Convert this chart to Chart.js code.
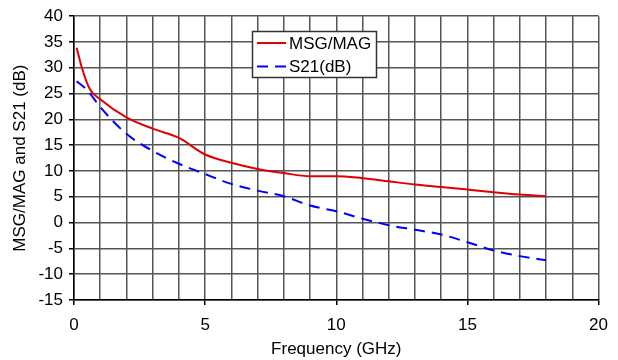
<!DOCTYPE html>
<html>
<head>
    <title>MSG/MAG and S21</title>
    <script src="https://cdn.jsdelivr.net/npm/chart.js"></script>
    <style>
        body { margin: 0; background: #fff; }
        #wrap { width: 618px; height: 360px; }
    </style>
</head>
<body>
    <div id="wrap"><canvas id="gainChart"></canvas></div>

    <script>
        // values
        let freqMsg = [0.1, 0.3, 0.6, 1, 2, 3, 4, 5, 6, 7, 8, 9, 10, 11, 12, 13, 14, 15, 16, 17, 18];
        let msgMag  = [33.9, 30.0, 25.9, 23.9, 20.4, 18.2, 16.4, 13.2, 11.6, 10.4, 9.6, 9.0, 9.0, 8.6, 8.0, 7.4, 6.9, 6.4, 5.9, 5.45, 5.1];
        let freqS21 = [0.1, 0.5, 1, 2, 3, 4, 5, 6, 7, 8, 9, 10, 11, 12, 13, 14, 15, 16, 17, 18];
        let s21     = [27.4, 25.7, 22.4, 17.2, 13.9, 11.4, 9.4, 7.5, 6.2, 5.1, 3.3, 2.2, 0.75, -0.5, -1.4, -2.3, -3.8, -5.4, -6.5, -7.3];
        let seriesNames = ["MSG/MAG", "S21(dB)"];

        const font = { family: "'Liberation Sans', Arial, sans-serif", size: 17 };
        const gridColor = "#555";

        function toPoints(xs, ys) {
            return xs.map((x, i) => ({ x: x, y: ys[i] }));
        }

        // legend box drawn inside the plot area, like the original
        const boxLegend = {
            id: "boxLegend",
            afterDraw(chart) {
                let ctx = chart.ctx;
                let x = 252, y = 31, w = 124, h = 46;
                ctx.save();
                ctx.fillStyle = "#fff";
                ctx.fillRect(x, y, w, h);
                ctx.strokeStyle = "#333";
                ctx.lineWidth = 1.5;
                ctx.strokeRect(x + 0.5, y + 0.5, w, h);
                ctx.font = font.size + "px " + font.family;
                ctx.textBaseline = "middle";
                chart.data.datasets.forEach((ds, i) => {
                    let ly = y + 12 + i * 23.5;
                    ctx.strokeStyle = ds.borderColor;
                    ctx.lineWidth = ds.borderWidth;
                    ctx.setLineDash(ds.borderDash || []);
                    ctx.beginPath();
                    ctx.moveTo(x + 5, ly);
                    ctx.lineTo(x + 34, ly);
                    ctx.stroke();
                    ctx.setLineDash([]);
                    ctx.fillStyle = "#000";
                    ctx.fillText(ds.label, x + 37, ly + 1);
                });
                ctx.restore();
            }
        };

        new Chart(document.getElementById("gainChart"), {
            type: "scatter",
            data: {
                datasets: [{
                    label: seriesNames[0],
                    data: toPoints(freqMsg, msgMag),
                    showLine: true,
                    borderColor: "#e00000",
                    borderWidth: 2,
                    pointRadius: 0,
                    cubicInterpolationMode: "monotone"
                }, {
                    label: seriesNames[1],
                    data: toPoints(freqS21, s21),
                    showLine: true,
                    borderColor: "#0000ff",
                    borderWidth: 2,
                    borderDash: [11, 7],
                    pointRadius: 0,
                    cubicInterpolationMode: "monotone"
                }]
            },
            options: {
                responsive: true,
                maintainAspectRatio: false,
                animation: false,
                layout: { padding: { top: 15, right: 9, left: 0, bottom: 0 } },
                plugins: { legend: { display: false }, tooltip: { enabled: false } },
                scales: {
                    x: {
                        type: "linear",
                        min: 0, max: 20,
                        afterFit: s => { s.height = 60; },
                        ticks: {
                            stepSize: 1,
                            autoSkip: false,
                            maxRotation: 0,
                            padding: 10,
                            color: "#000",
                            font: font,
                            callback: v => (v % 5 === 0 ? v : "")
                        },
                        grid: {
                            color: gridColor,
                            lineWidth: 1.5,
                            tickLength: 5,
                            tickColor: c => (c.tick && c.tick.value % 5 === 0 ? "#000" : "rgba(0,0,0,0)")
                        },
                        border: { color: "#000", width: 1.5 },
                        title: { display: true, text: "Frequency (GHz)", color: "#000", font: font, padding: { top: 2, bottom: 0 } }
                    },
                    y: {
                        min: -15, max: 40,
                        afterFit: s => { s.width = 74; },
                        ticks: { stepSize: 5, padding: 6, color: "#000", font: font },
                        grid: { color: gridColor, lineWidth: 1.5, tickLength: 5, tickColor: "#000" },
                        border: { color: "#000", width: 1.5 },
                        title: { display: true, text: "MSG/MAG and S21 (dB)", color: "#000", font: font, padding: { top: 10, bottom: 0 } }
                    }
                }
            },
            plugins: [boxLegend]
        });
    </script>
</body>
</html>
